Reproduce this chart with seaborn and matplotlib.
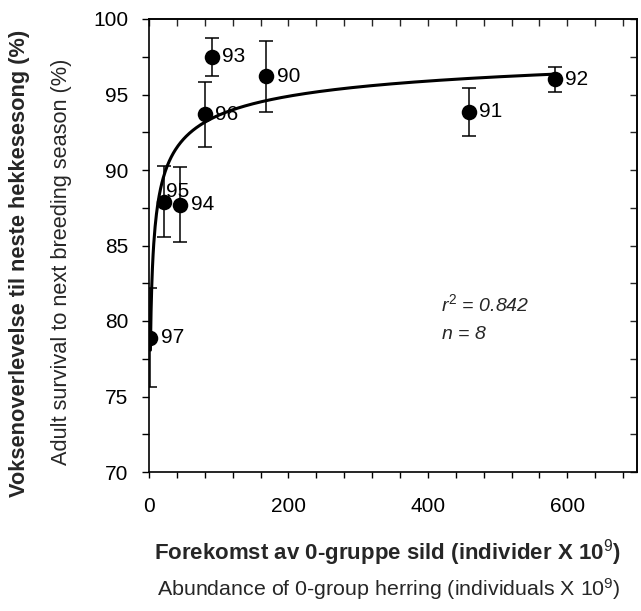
import numpy as np
import pandas as pd
import matplotlib
matplotlib.use("Agg")
import matplotlib.pyplot as plt
from matplotlib.ticker import MultipleLocator
import seaborn as sns

# ---- data ----
years = ["97", "95", "94", "96", "93", "90", "91", "92"]
abundance = [2, 21, 45, 80, 90, 168, 459, 582]
survival = [78.9, 87.9, 87.7, 93.7, 97.5, 96.2, 93.85, 96.0]
err = [3.3, 2.35, 2.5, 2.15, 1.25, 2.35, 1.6, 0.85]

# fitted curve parameters: y = a - b * x^(-c)
fit_a, fit_b, fit_c = 100.0, 27.3, 0.316

stats_text = ["$\\it{r}^2$ = 0.842", "$\\it{n}$ = 8"]

FONT = "Liberation Sans"
sns.set_theme(style="ticks")
plt.rcParams['font.family'] = [FONT, 'DejaVu Sans']
plt.rcParams['mathtext.fontset'] = 'custom'
plt.rcParams['mathtext.it'] = FONT + ':italic'
plt.rcParams['mathtext.rm'] = FONT
plt.rcParams['mathtext.bf'] = FONT + ':bold'

df = pd.DataFrame({"x": abundance, "y": survival, "err": err, "year": years})

fig = plt.figure(figsize=(6.41, 6.11), dpi=100)
ax = fig.add_axes([149/641, 1 - 472/611, (637 - 149)/641, (472 - 19)/611])

# curve
xc = np.linspace(min(abundance), max(abundance), 600)
yc = fit_a - fit_b * xc ** (-fit_c)
sns.lineplot(x=xc, y=yc, ax=ax, color="black", lw=2.2, zorder=2)

# error bars
ax.errorbar(df["x"], df["y"], yerr=df["err"], fmt="none", ecolor="black",
            elinewidth=1.1, capsize=5, capthick=1.1, zorder=3)

# points
sns.scatterplot(data=df, x="x", y="y", ax=ax, color="black", s=125,
                edgecolor="black", linewidth=0, zorder=4)

label_offsets = {"95": (2, 7)}
for xi, yi, lab in zip(df["x"], df["y"], df["year"]):
    off = label_offsets.get(lab, (7.5, 0))
    ax.annotate(lab, (xi, yi), xytext=off, textcoords="offset points",
                ha="left", va="center", fontsize=15, color="black", zorder=5)

ax.text(419, 80.66, stats_text[0], fontsize=14, style="italic", ha="left", va="baseline")
ax.text(419, 78.8, stats_text[1], fontsize=14, style="italic", ha="left", va="baseline")

ax.set_xlim(0, 700)
ax.set_ylim(70, 100)
ax.xaxis.set_major_locator(MultipleLocator(200))
ax.xaxis.set_minor_locator(MultipleLocator(40))
ax.yaxis.set_major_locator(MultipleLocator(5))
ax.yaxis.set_minor_locator(MultipleLocator(2.5))

for s in ax.spines.values():
    s.set_visible(True)
    s.set_linewidth(1.2)
    s.set_color("black")

ax.tick_params(axis="both", which="both", direction="out", color="black",
               width=1.0, labelsize=15, labelcolor="black")
ax.tick_params(axis="y", which="both", length=5, pad=10)
ax.tick_params(axis="x", which="both", length=4, pad=14)
ax.tick_params(axis="x", which="both", top=False)
ax.tick_params(axis="y", which="both", right=False)

# top and right inward ticks
axt = ax.secondary_xaxis("top")
axt.xaxis.set_major_locator(MultipleLocator(40))
axt.tick_params(direction="in", length=5, width=1.0, labeltop=False)
axr = ax.secondary_yaxis("right")
axr.yaxis.set_major_locator(MultipleLocator(2.5))
axr.tick_params(direction="in", length=5, width=1.0, labelright=False)

ax.set_xlabel("")
ax.set_ylabel("")

fig.text(20/641, 1 - 263/611, "Voksenoverlevelse til neste hekkesesong (%)",
         rotation=90, ha="center", va="center", fontsize=15.7, fontweight="bold")
fig.text(62/641, 1 - 262/611, "Adult survival to next breeding season (%)",
         rotation=90, ha="center", va="center", fontsize=15.7)
fig.text(387/641, 1 - 553/611, "Forekomst av 0-gruppe sild (individer X 10$^9$)",
         ha="center", va="center", fontsize=16, fontweight="bold")
fig.text(389/641, 1 - 589/611, "Abundance of 0-group herring (individuals X 10$^9$)",
         ha="center", va="center", fontsize=15.4)

fig.savefig("out.png", dpi=100)
